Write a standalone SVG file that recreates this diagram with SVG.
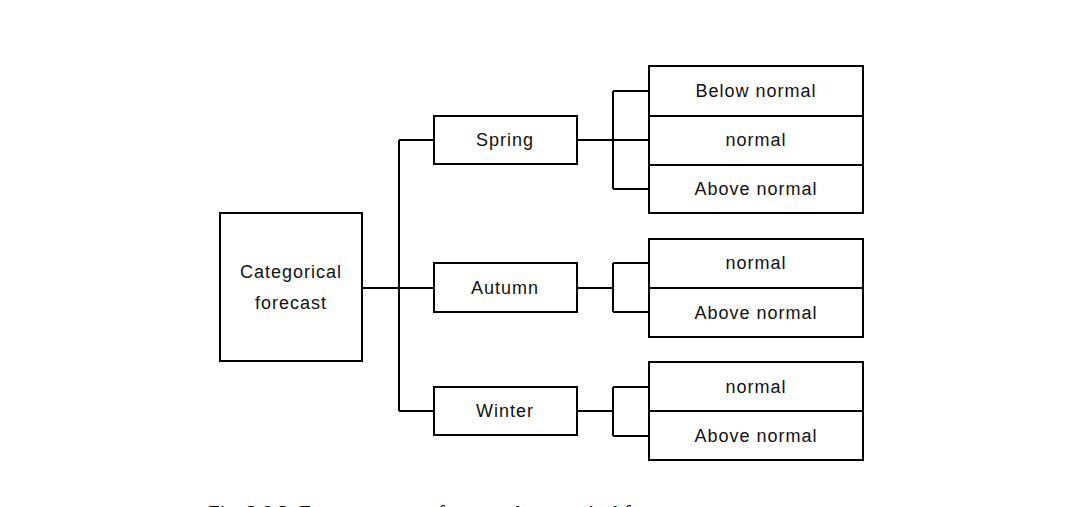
<svg xmlns="http://www.w3.org/2000/svg" width="1078" height="507" viewBox="0 0 1078 507">
<style>
.box{fill:#fff;stroke:#000;stroke-width:2}
.ln{fill:none;stroke:#000;stroke-width:2}
.t{font-family:"Liberation Sans",Arial,sans-serif;font-size:18px;letter-spacing:1px;fill:#111;text-anchor:middle;dominant-baseline:central}
.cap{font-family:"Liberation Serif","Times New Roman",serif;font-size:21px;fill:#000}
</style>
<rect width="1078" height="507" fill="#fff"/>
<g id="connectors">
<path class="ln" d="M362 288H434M399 140V411M399 140H434M399 411H434"/>
<path class="ln" d="M577 140H649M613 91V189M613 91H649M613 189H649"/>
<path class="ln" d="M577 288H613M613 263V312M613 263H649M613 312H649"/>
<path class="ln" d="M577 411H613M613 387V436M613 387H649M613 436H649"/>
</g>
<g id="categorical">
<rect class="box" x="220" y="213" width="142" height="148"/>
<text class="t" x="291" y="272">Categorical</text>
<text class="t" x="291" y="303">forecast</text>
</g>
<g id="spring">
<rect class="box" x="434" y="116" width="143" height="48"/>
<text class="t" x="505" y="140">Spring</text>
</g>
<g id="autumn">
<rect class="box" x="434" y="263" width="143" height="49"/>
<text class="t" x="505" y="288">Autumn</text>
</g>
<g id="winter">
<rect class="box" x="434" y="387" width="143" height="48"/>
<text class="t" x="505" y="411">Winter</text>
</g>
<g id="spring-below">
<rect class="box" x="649" y="66" width="214" height="50"/>
<text class="t" x="756" y="91">Below  normal</text>
</g>
<g id="spring-normal">
<rect class="box" x="649" y="116" width="214" height="49"/>
<text class="t" x="756" y="140">normal</text>
</g>
<g id="spring-above">
<rect class="box" x="649" y="165" width="214" height="48"/>
<text class="t" x="756" y="189">Above  normal</text>
</g>
<g id="autumn-normal">
<rect class="box" x="649" y="239" width="214" height="49"/>
<text class="t" x="756" y="263">normal</text>
</g>
<g id="autumn-above">
<rect class="box" x="649" y="288" width="214" height="49"/>
<text class="t" x="756" y="313">Above  normal</text>
</g>
<g id="winter-normal">
<rect class="box" x="649" y="362" width="214" height="49"/>
<text class="t" x="756" y="387">normal</text>
</g>
<g id="winter-above">
<rect class="box" x="649" y="411" width="214" height="49"/>
<text class="t" x="756" y="436">Above  normal</text>
</g>
<g id="caption">
<text class="cap" x="208" y="520">Fig. 2.8.3. Forecast range of seasonal categorical forecast</text>
</g>
</svg>
